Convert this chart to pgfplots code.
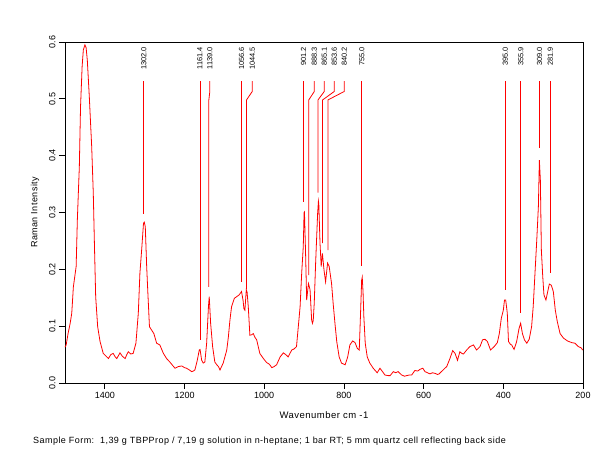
\documentclass[border=0pt]{standalone}
\usepackage{pgfplots}
\pgfplotsset{compat=1.18}
\usepackage{fontspec}
\setmainfont{Liberation Sans}
\newfontfamily\spaced[LetterSpace=5]{Liberation Sans}
\begin{document}
\begin{tikzpicture}
\useasboundingbox (0,0) rectangle (612bp,472bp);
\begin{axis}[
  at={(65bp,89bp)}, anchor=south west,
  width=518bp, height=341bp, scale only axis,
  x dir=reverse, xmin=200, xmax=1500, ymin=0, ymax=0.6,
  xtick={200,400,...,1400}, ytick={0,0.1,0.2,0.3,0.4,0.5,0.6},
  tick align=outside, major tick length=6bp,
  xtick pos=bottom, ytick pos=left,
  axis line style={line width=0.8pt, black},
  tick style={line width=0.8pt, black},
  /pgf/number format/assume math mode=true,
  /pgf/number format/set thousands separator={},
  yticklabel={\pgfmathprintnumber[fixed,fixed zerofill,precision=1]{\tick}},
  yticklabel style={rotate=90, anchor=south, font=\fontsize{9bp}{10bp}\selectfont},
  xticklabel style={font=\fontsize{9bp}{10bp}\selectfont},
  xlabel={\spaced Wavenumber cm -1},
  ylabel={\spaced Raman Intensity},
  xlabel style={at={(axis description cs:0.5,-0.094)}, anchor=center, font=\fontsize{9.5bp}{11bp}\selectfont},
  ylabel style={at={(axis description cs:-0.058,0.5)}, anchor=center, font=\fontsize{9bp}{10bp}\selectfont},
  clip=false,
]
\addplot[red, line width=0.8pt] coordinates {
(1500,0.063) (1497,0.067) (1492,0.088) (1487,0.105) (1483,0.123) (1479,0.169) (1472,0.205) (1469,0.287)
(1464,0.381) (1461,0.486) (1457,0.557) (1454,0.586) (1450,0.595) (1447,0.590) (1444,0.568) (1439,0.504)
(1433,0.416) (1429,0.334) (1426,0.240) (1423,0.152) (1418,0.099) (1412,0.073) (1404,0.052) (1398,0.048)
(1391,0.043) (1385,0.050) (1379,0.052) (1374,0.046) (1370,0.043) (1366,0.048) (1362,0.053) (1356,0.047)
(1349,0.043) (1345,0.050) (1341,0.055) (1335,0.051) (1329,0.052) (1322,0.070) (1316,0.123) (1312,0.193)
(1307,0.240) (1303,0.281) (1301,0.283) (1298.5,0.275) (1295,0.205) (1292,0.158) (1288,0.099) (1282.5,0.093)
(1277,0.087) (1270,0.070) (1262,0.067) (1253,0.052) (1245,0.043) (1237,0.037) (1230,0.031) (1224,0.026)
(1215,0.029) (1207,0.030) (1200,0.027) (1195,0.026) (1188,0.023) (1182,0.020) (1178,0.021) (1174,0.023)
(1168,0.040) (1163,0.058) (1161,0.059) (1157,0.040) (1153,0.035) (1149,0.037) (1144.5,0.070) (1140,0.134)
(1138,0.152) (1134.5,0.105) (1129.5,0.064) (1124,0.037) (1119,0.032) (1115,0.029) (1111,0.023) (1103,0.035)
(1094,0.058) (1090,0.081) (1086,0.111) (1082,0.134) (1075,0.149) (1069,0.152) (1063,0.155) (1057,0.161)
(1053,0.145) (1051,0.131) (1048.5,0.128) (1045,0.164) (1043,0.160) (1040,0.134) (1036,0.084) (1031,0.085)
(1027.5,0.087) (1023,0.080) (1019,0.076) (1011,0.052) (1002,0.043) (994,0.036) (987,0.033) (981,0.027)
(975,0.029) (969,0.032) (960,0.046) (952,0.053) (946,0.050) (940,0.046) (931,0.058) (925,0.060)
(919,0.064) (914.5,0.099) (910,0.134) (906,0.193) (902,0.240) (900,0.300) (899,0.301) (896,0.222)
(893.5,0.146) (889,0.175) (887,0.170) (885,0.164) (881,0.111) (879,0.105) (877,0.110) (874.5,0.140)
(871,0.211) (868,0.263) (866,0.298) (864,0.320) (863,0.315) (860,0.246) (857,0.205) (854,0.228)
(850,0.199) (846,0.178) (841,0.211) (837,0.205) (831,0.175) (827,0.140) (822.5,0.105) (818,0.073)
(812,0.046) (806,0.035) (797,0.032) (790.5,0.046) (785,0.067) (778,0.074) (772,0.071) (766.5,0.061)
(761.5,0.058) (758,0.128) (755.5,0.181) (754,0.186) (752,0.160) (750,0.117) (746.5,0.070) (741.5,0.046)
(735,0.035) (726.5,0.026) (716.5,0.018) (709.5,0.026) (701,0.018) (697,0.014) (689,0.013) (684,0.013)
(676,0.020) (670,0.018) (664,0.020) (655,0.014) (648,0.012) (642.5,0.013) (636,0.014) (630,0.014)
(622,0.022) (615,0.021) (609,0.024) (602,0.026) (596.5,0.020) (590,0.018) (584,0.016) (578,0.018)
(571.5,0.017) (565,0.015) (561,0.016) (551,0.023) (542,0.029) (534,0.043) (527,0.057) (521,0.052)
(515,0.040) (509,0.055) (504,0.052) (500,0.051) (492,0.058) (484,0.064) (475,0.067) (467,0.058)
(458.5,0.064) (452,0.076) (446,0.077) (440,0.073) (432,0.058) (423,0.064) (415,0.071) (410,0.087)
(405,0.114) (400,0.128) (397,0.146) (394,0.146) (390,0.123) (387,0.073) (382,0.068) (379,0.067)
(373,0.059) (366.5,0.073) (360.5,0.096) (356.5,0.105) (352,0.087) (347,0.076) (341,0.070) (335,0.077)
(329,0.099) (325,0.134) (320.5,0.193) (316,0.252) (312,0.310) (309.5,0.392) (307,0.357) (304.5,0.234)
(301,0.187) (298,0.155) (293,0.146) (288.5,0.161) (284.5,0.174) (279.5,0.172) (274.5,0.161) (269.5,0.128)
(264.5,0.108) (257.5,0.087) (249,0.079) (239,0.074) (228,0.071) (220,0.070) (211.5,0.064) (205,0.062)
(200.5,0.058)
};
% peak marker lines
\addplot[red, line width=0.8pt] coordinates {(1302.0,0.531) (1302.0,0.298)};
\addplot[red, line width=0.8pt] coordinates {(1161.4,0.531) (1161.4,0.076)};
\addplot[red, line width=0.8pt] coordinates {(1136.5,0.531) (1136.5,0.513) (1139.0,0.498) (1139.0,0.169)};
\addplot[red, line width=0.8pt] coordinates {(1056.6,0.531) (1056.6,0.178)};
\addplot[red, line width=0.8pt] coordinates {(1030.0,0.531) (1030.0,0.513) (1044.5,0.498) (1044.5,0.165)};
\addplot[red, line width=0.8pt] coordinates {(901.2,0.531) (901.2,0.319)};
\addplot[red, line width=0.8pt] coordinates {(874.3,0.531) (874.3,0.513) (888.3,0.498) (888.3,0.190)};
\addplot[red, line width=0.8pt] coordinates {(849.3,0.531) (849.3,0.513) (865.1,0.498) (865.1,0.335)};
\addplot[red, line width=0.8pt] coordinates {(824.2,0.531) (824.2,0.513) (853.6,0.498) (853.6,0.246)};
\addplot[red, line width=0.8pt] coordinates {(799.1,0.531) (799.1,0.513) (840.2,0.498) (840.2,0.234)};
\addplot[red, line width=0.8pt] coordinates {(755.0,0.531) (755.0,0.205)};
\addplot[red, line width=0.8pt] coordinates {(395.0,0.531) (395.0,0.164)};
\addplot[red, line width=0.8pt] coordinates {(355.9,0.531) (355.9,0.123)};
\addplot[red, line width=0.8pt] coordinates {(309.0,0.531) (309.0,0.413)};
\addplot[red, line width=0.8pt] coordinates {(281.9,0.531) (281.9,0.194)};
% peak labels
\tikzset{pl/.style={rotate=90, anchor=east, inner sep=0pt, font=\fontsize{7.4bp}{8bp}\selectfont}}
\node[pl] at (axis cs:1302.0,0.591) {1302.0};
\node[pl] at (axis cs:1161.4,0.591) {1161.4};
\node[pl] at (axis cs:1136.5,0.591) {1139.0};
\node[pl] at (axis cs:1056.6,0.591) {1056.6};
\node[pl] at (axis cs:1030.0,0.591) {1044.5};
\node[pl] at (axis cs:901.2,0.591) {901.2};
\node[pl] at (axis cs:874.3,0.591) {888.3};
\node[pl] at (axis cs:849.3,0.591) {865.1};
\node[pl] at (axis cs:824.2,0.591) {853.6};
\node[pl] at (axis cs:799.1,0.591) {840.2};
\node[pl] at (axis cs:755.0,0.591) {755.0};
\node[pl] at (axis cs:395.0,0.591) {395.0};
\node[pl] at (axis cs:355.9,0.591) {355.9};
\node[pl] at (axis cs:309.0,0.591) {309.0};
\node[pl] at (axis cs:281.9,0.591) {281.9};
\end{axis}
\node[anchor=west, inner sep=0pt, font=\fontsize{9bp}{10bp}\spaced] at (33bp,31bp) {Sample Form:\ \ 1,39 g TBPProp / 7,19 g solution in n-heptane; 1 bar RT; 5 mm quartz cell reflecting back side};
\end{tikzpicture}
\end{document}
